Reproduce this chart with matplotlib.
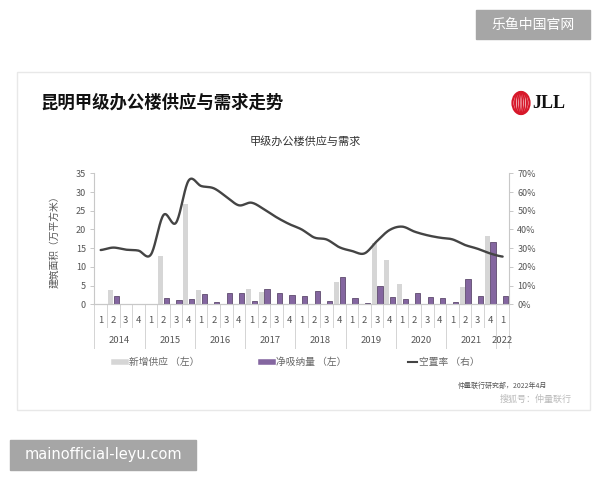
import numpy as np
import matplotlib
matplotlib.use("Agg")
import matplotlib.pyplot as plt
from matplotlib.patches import Rectangle, Ellipse
from matplotlib.lines import Line2D
from matplotlib.ticker import PercentFormatter
import matplotlib.transforms as mtrans

plt.rcParams['font.family'] = ['Noto Sans CJK SC', 'DejaVu Sans']

# ---------------- data ----------------
years = ['2014', '2015', '2016', '2017', '2018', '2019', '2020', '2021', '2022']
quarters_per_year = [4, 4, 4, 4, 4, 4, 4, 4, 1]
quarter_labels = ['1', '2', '3', '4'] * 8 + ['1']
new_supply = [0.1, 3.7, 0.0, 0.0, 0.1, 12.9, 0.0, 26.9,
              3.8, 0.0, 0.0, 0.0, 4.0, 3.2, 0.0, 0.0,
              0.0, 0.0, 0.0, 5.9, 0.0, 0.0, 16.3, 11.8,
              5.5, 0.0, 0.0, 0.0, 0.0, 4.6, 0.0, 18.2, 0.0]
net_absorption = [0.0, 2.2, 0.1, 0.0, 0.0, 1.7, 1.1, 1.4,
                  2.7, 0.7, 3.1, 2.9, 1.0, 4.0, 3.0, 2.6,
                  2.1, 3.5, 0.9, 7.3, 1.6, 0.45, 5.0, 1.9,
                  1.5, 3.0, 2.0, 1.7, 0.7, 6.7, 2.1, 16.7, 2.1]
vacancy = [29.0, 30.3, 29.2, 28.7, 26.6, 47.7, 43.6, 66.1,
           63.2, 62.0, 57.5, 52.9, 54.3, 50.8, 46.5, 42.9,
           40.0, 35.7, 34.6, 30.5, 28.5, 27.2, 33.8, 39.7,
           41.5, 38.8, 36.9, 35.6, 34.7, 31.7, 29.7, 27.2, 25.5]

title = '昆明甲级办公楼供应与需求走势'
subtitle = '甲级办公楼供应与需求'
ylabel = '建筑面积（万平方米）'
legend_labels = ['新增供应 （左）', '净吸纳量 （左）', '空置率 （右）']
source = '仲量联行研究部，2022年4月'

W, H = 600, 480
def fx(px): return px / W
def fy(py): return 1 - py / H

fig = plt.figure(figsize=(6, 4.8), dpi=100)
fig.patch.set_facecolor('white')

# card frame
fig.patches.append(Rectangle((fx(17), fy(410)), fx(590) - fx(17), fy(72) - fy(410),
                             transform=fig.transFigure, fill=False,
                             edgecolor='#e8e8e8', lw=1.0))

# title & logo
fig.text(fx(40), fy(103), title, fontsize=12.5, fontweight='bold',
         color='#111111', va='center', ha='left')
fig.text(fx(305), fy(141), subtitle, fontsize=8, color='#333333',
         va='center', ha='center')
for w, lw in [(17, 1.6), (12, 1.4), (7, 1.3), (2.5, 1.2)]:
    fig.patches.append(Ellipse((fx(521), fy(103)), fx(w), 22 / H,
                               transform=fig.transFigure, fill=False,
                               edgecolor='#d7182a', lw=lw))
fig.text(fx(532), fy(103), 'JLL', fontsize=13, fontweight='bold',
         family='Liberation Serif', color='#111111', va='center', ha='left')

# axes
x0, x1 = 94.4, 508.9
ax = fig.add_axes([fx(x0), fy(304.3), fx(x1) - fx(x0), 131 / H])
n = len(quarter_labels)
x = np.arange(n)
ax.bar(x - 0.22, new_supply, width=0.42, color='#d6d6d6', zorder=2)
ax.bar(x + 0.24, net_absorption, width=0.42, color='#8466a0',
       edgecolor='#5e4a6e', lw=0.6, zorder=3)
ax.set_xlim(-0.5, n - 0.5)
ax.set_ylim(0, 35)
ax.set_yticks(np.arange(0, 36, 5))
ax.set_xticks([])

ax2 = ax.twinx()
# smooth line (Catmull-Rom through the data points)
v = np.array(vacancy)
pts_x, pts_y = [], []
for i in range(n - 1):
    p0 = v[i - 1] if i > 0 else v[i]
    p1, p2 = v[i], v[i + 1]
    p3 = v[i + 2] if i + 2 < n else v[i + 1]
    t = np.linspace(0, 1, 20, endpoint=False)
    yy = 0.5 * ((2 * p1) + (-p0 + p2) * t + (2 * p0 - 5 * p1 + 4 * p2 - p3) * t ** 2
                + (-p0 + 3 * p1 - 3 * p2 + p3) * t ** 3)
    pts_x.extend(i + t)
    pts_y.extend(yy)
pts_x.append(n - 1)
pts_y.append(v[-1])
ax2.plot(pts_x, np.array(pts_y) / 100, color='#444444', lw=1.7, zorder=4,
         solid_capstyle='round')
ax2.set_ylim(0, 0.70)
ax2.set_yticks(np.arange(0, 0.71, 0.1))
ax2.yaxis.set_major_formatter(PercentFormatter(1.0, decimals=0))

for a in (ax, ax2):
    a.spines['top'].set_visible(False)
    a.spines['left'].set_color('#c8c8c8')
    a.spines['right'].set_color('#c8c8c8')
    a.spines['bottom'].set_color('#c8c8c8')
ax.spines['right'].set_visible(False)
ax2.spines['left'].set_visible(False)
ax.tick_params(axis='y', length=3, width=0.7, color='#c8c8c8',
               labelsize=6.5, labelcolor='#555555', pad=3)
ax2.tick_params(axis='y', length=3, width=0.7, color='#c8c8c8',
                labelsize=6.5, labelcolor='#555555', pad=3)
ax.set_ylabel(ylabel, fontsize=7, color='#555555', labelpad=12)

# category axis: quarter labels, year labels, separators
tr = mtrans.blended_transform_factory(ax.transData, ax.transAxes)
for i, q in enumerate(quarter_labels):
    ax.text(i, -0.12, q, transform=tr, ha='center', va='center',
            fontsize=6.8, color='#555555')
start = 0
for yr, cnt in zip(years, quarters_per_year):
    ax.text(start + (cnt - 1) / 2, -0.275, yr, transform=tr, ha='center',
            va='center', fontsize=6.8, color='#555555')
    start += cnt
bounds = np.arange(-0.5, n, 1.0)
year_bounds = set([-0.5] + list(np.cumsum(quarters_per_year) - 0.5))
for b in bounds:
    low = -0.33 if b in year_bounds else -0.17
    ax.add_line(Line2D([b, b], [0, low], transform=tr, color='#d4d4d4',
                       lw=0.7, clip_on=False))

# legend (manual, below chart)
ly = fy(362)
fig.lines.append(Line2D([fx(114), fx(126)], [ly, ly], transform=fig.transFigure,
                        color='#d6d6d6', lw=4))
fig.text(fx(129), ly, legend_labels[0], fontsize=7, color='#666666', va='center')
fig.lines.append(Line2D([fx(261), fx(273)], [ly, ly], transform=fig.transFigure,
                        color='#8466a0', lw=4))
fig.text(fx(276), ly, legend_labels[1], fontsize=7, color='#666666', va='center')
fig.lines.append(Line2D([fx(408), fx(417)], [ly, ly], transform=fig.transFigure,
                        color='#444444', lw=1.5))
fig.text(fx(419), ly, legend_labels[2], fontsize=7, color='#666666', va='center')

# source
fig.text(fx(458), fy(386), source, fontsize=5, color='#555555', va='center')
fig.text(fx(500), fy(399), '搜狐号：仲量联行', fontsize=6.5, color='#bbbbbb', va='center')

# page watermarks
fig.patches.append(Rectangle((fx(476), fy(39)), fx(114), 29 / H,
                             transform=fig.transFigure, color='#a6a6a6'))
fig.text(fx(533), fy(24.5), '乐鱼中国官网', fontsize=10, color='white',
         ha='center', va='center')
fig.patches.append(Rectangle((fx(10), fy(470)), fx(186), 30 / H,
                             transform=fig.transFigure, color='#a6a6a6'))
fig.text(fx(103), fy(455), 'mainofficial-leyu.com', fontsize=10.5, color='white',
         ha='center', va='center', family='DejaVu Sans')

fig.savefig('out.png', dpi=100, facecolor='white')
